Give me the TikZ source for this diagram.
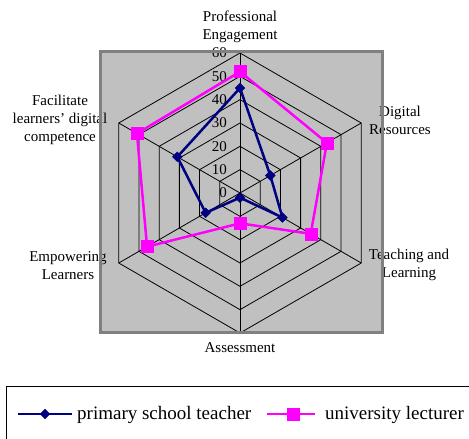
\documentclass[tikz,border=0pt]{standalone}
\usepackage{fontspec}
\setmainfont{Liberation Serif}
\usetikzlibrary{shapes.geometric}
\definecolor{navyline}{RGB}{0,0,128}
\definecolor{magline}{RGB}{255,0,255}
\definecolor{plotgray}{RGB}{192,192,192}
\definecolor{bordergray}{RGB}{128,128,128}
\begin{document}
\begin{tikzpicture}[x=1pt,y=1pt,
  gridline/.style={black,line width=0.8pt,line join=miter},
  blueline/.style={navyline,line width=2.5pt,line join=round},
  magline2/.style={magline,line width=2.5pt,line join=round},
  bluemark/.style={diamond,fill=navyline,draw=navyline,minimum size=10pt,inner sep=0pt},
  magmark/.style={rectangle,fill=magline,draw=magline,minimum size=12pt,inner sep=0pt},
  axlabel/.style={font=\fontsize{15}{18}\selectfont,align=center,inner sep=0pt},
  ticklabel/.style={font=\fontsize{15}{18}\selectfont,anchor=east,inner sep=0pt},
  legtext/.style={font=\fontsize{19}{22}\selectfont,anchor=west,inner sep=0pt}]
\useasboundingbox (0,0) rectangle (469,439);
% plot area
\fill[plotgray] (100,106) rectangle (382,387);
\coordinate (C) at (240,246);
% grid hexagons
\foreach \l in {10,20,30,40,50,60}{
  \pgfmathsetmacro\r{\l*140/60}
  \draw[gridline,shift={(240,246)}] (90:\r) -- (30:\r) -- (-30:\r) -- (-90:\r) -- (-150:\r) -- (150:\r) -- cycle;
}
% spokes
\foreach \i/\a in {1/90,2/30,3/-30,4/-90,5/-150,6/150}{
  \coordinate (v\i) at ([shift={(\a:140)}]C);
  \draw[gridline] (C) -- (v\i);
}
% tick labels
\foreach \v in {0,10,20,30,40,50,60}{
  \pgfmathsetmacro\yy{246+\v*140/60}
  \node[ticklabel] (t\v) at (227,\yy) {\v};
}
% data
\foreach \i/\a/\v in {1/90/45,2/30/15,3/-30/21,4/-90/2,5/-150/17,6/150/31}{
  \pgfmathsetmacro\r{\v*140/60}
  \coordinate (b\i) at ([shift={(\a:\r)}]C);
}
\foreach \i/\a/\v in {1/90/52,2/30/43,3/-30/35,4/-90/13,5/-150/46,6/150/51}{
  \pgfmathsetmacro\r{\v*140/60}
  \coordinate (m\i) at ([shift={(\a:\r)}]C);
}
\draw[blueline] (b1) -- (b2) -- (b3) -- (b4) -- (b5) -- (b6) -- cycle;
\foreach \i in {1,...,6}{\node[bluemark] (bm\i) at (b\i) {};}
\draw[magline2] (m1) -- (m2) -- (m3) -- (m4) -- (m5) -- (m6) -- cycle;
\foreach \i in {1,...,6}{\node[magmark] (mm\i) at (m\i) {};}
% axis labels
\node[axlabel] (lPE) at (240,412) {Professional\\Engagement};
\node[axlabel] (lDR) at (400,318.5) {Digital\\Resources};
\node[axlabel] (lTL) at (409,174) {Teaching and\\Learning};
\node[axlabel] (lA) at (240,91) {Assessment};
\node[axlabel] (lEL) at (68,173.5) {Empowering\\Learners};
\node[axlabel] (lFL) at (60,319) {Facilitate\\learners’ digital\\competence};
% plot border
\draw[bordergray,line width=3pt] (100,106) rectangle (382,387);
% legend
\draw[black,line width=0.8pt] (6,53) rectangle (480,-10);
\coordinate (la1) at (18,25);
\coordinate (la2) at (72,25);
\draw[blueline] (la1) -- (la2);
\node[bluemark] (lbm) at (45,25) {};
\node[legtext] (lt1) at (77,24) {primary school teacher};
\coordinate (lb1) at (267,25);
\coordinate (lb2) at (315,25);
\draw[magline2] (lb1) -- (lb2);
\node[magmark] (lmm) at (293,25) {};
\node[legtext] (lt2) at (325,24) {university lecturer};
\end{tikzpicture}
\end{document}
